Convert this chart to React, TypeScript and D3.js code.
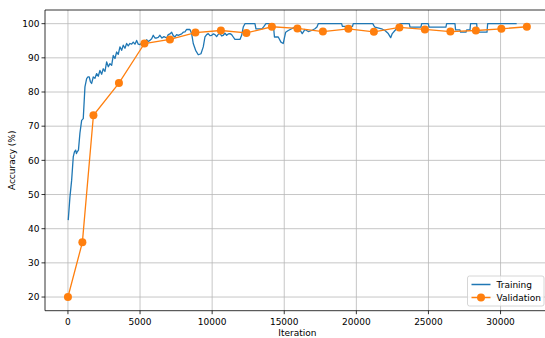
import * as d3 from "d3";
import React from "react";

// training accuracy (iteration, %)
const trainingPoints: [number, number][] = [
  [20, 42.5], [139, 49.3], [257, 54.2], [368, 61.0], [450, 62.5], [534, 63.0],
  [590, 62.0], [645, 62.5], [728, 63.0], [832, 68.0], [950, 71.7], [1061, 72.2],
  [1179, 81.5], [1297, 83.9], [1387, 84.4], [1477, 84.4], [1560, 83.0], [1644, 82.5],
  [1755, 84.4], [1872, 84.0], [1990, 85.4], [2101, 84.6], [2219, 86.3], [2337, 85.2],
  [2448, 86.8], [2566, 86.0], [2684, 88.8], [2801, 87.4], [2913, 88.3], [3031, 87.8],
  [3142, 90.7], [3259, 89.8], [3377, 91.7], [3488, 91.0], [3606, 93.2], [3724, 92.2],
  [3835, 93.7], [3953, 92.8], [4071, 94.2], [4182, 93.5], [4300, 94.2], [4418, 94.0],
  [4528, 94.6], [4646, 94.0], [4764, 95.1], [4875, 94.0], [4993, 93.9], [5111, 94.3],
  [5222, 94.8], [5340, 94.5], [5458, 95.3], [5569, 94.8], [5687, 95.1], [5805, 95.6],
  [5916, 96.6], [6033, 95.8], [6151, 95.8], [6262, 96.0], [6380, 96.6], [6519, 95.8],
  [6658, 96.2], [6845, 95.8], [6956, 96.8], [7074, 97.0], [7192, 97.5], [7302, 96.5],
  [7420, 96.1], [7538, 96.8], [7649, 96.6], [7767, 96.8], [7885, 97.0], [7996, 97.5],
  [8114, 97.6], [8232, 98.3], [8343, 98.3], [8461, 98.3], [8578, 97.1], [8690, 94.2],
  [8855, 92.2], [9036, 90.9], [9224, 91.2], [9383, 93.2], [9501, 96.1], [9619, 96.8],
  [9730, 97.1], [9848, 96.5], [9966, 96.6], [10077, 97.0], [10194, 96.8], [10312, 96.2],
  [10423, 96.9], [10541, 97.1], [10659, 96.4], [10770, 96.6], [10888, 97.2], [11006, 96.6],
  [11117, 97.0], [11235, 97.1], [11352, 96.8], [11464, 96.1], [11581, 95.4], [11699, 95.4],
  [11928, 95.4], [12046, 96.6], [12157, 99.0], [12275, 100], [12968, 100], [13038, 98.5],
  [13454, 98.5], [13593, 99.2], [13731, 100], [14238, 100], [14321, 96.1], [14584, 96.1],
  [14771, 94.6], [14931, 94.2], [15098, 97.5], [15278, 98.0], [15514, 98.5], [15742, 99.0],
  [15971, 98.7], [16089, 98.2], [16249, 97.1], [16436, 98.3], [16665, 97.7], [16900, 98.0],
  [17130, 98.5], [17268, 99.0], [17358, 100], [18980, 100], [19030, 99.2], [19735, 99.2],
  [19785, 100], [21150, 100], [21200, 99.5], [21290, 99.0], [21755, 98.5], [21984, 98.0],
  [22213, 97.1], [22380, 95.9], [22491, 97.1], [22677, 98.0], [22906, 99.0], [23024, 100],
  [23669, 100], [23720, 99.0], [24480, 99.0], [24529, 100], [24987, 100], [25040, 99.0],
  [26210, 99.0], [26263, 100], [26838, 100], [26880, 98.2], [27185, 98.2], [27230, 97.5],
  [27601, 97.5], [27650, 98.2], [27879, 98.2], [27920, 100], [28344, 100], [28390, 97.5],
  [29060, 97.5], [29106, 100], [31117, 100],
];

// validation accuracy
const validationIter = [
  0, 1000, 1768, 3536, 5304, 7072, 8840, 10608, 12376, 14144,
  15912, 17680, 19448, 21216, 22984, 24752, 26520, 28288, 30056, 31824,
];
const validationAcc = [
  20, 36.0, 73.2, 82.6, 94.2, 95.4, 97.4, 98.0, 97.3, 99.1,
  98.6, 97.7, 98.5, 97.6, 98.9, 98.3, 97.7, 98.0, 98.5, 99.1,
];

const xTicks = [0, 5000, 10000, 15000, 20000, 25000, 30000];
const yTicks = [20, 30, 40, 50, 60, 70, 80, 90, 100];
const seriesNames = ["Training", "Validation"];

const W = 545;
const H = 338;
const left = 45;
const top = 10;
const bottom = 310.7;
const right = 549.8;

const blue = "#1f77b4";
const orange = "#ff7f0e";
const font = "DejaVu Sans, sans-serif";
const fs = 9;

export default function App() {
  const xMax = d3.max(validationIter) as number;
  const pad = xMax * 0.05;
  const x = d3.scaleLinear().domain([-pad, xMax + pad]).range([left, right]);
  const y = d3.scaleLinear().domain([16, 104]).range([bottom, top]);

  const line = d3
    .line<[number, number]>()
    .x((d) => x(d[0]))
    .y((d) => y(d[1]));

  const valPoints: [number, number][] = validationIter.map((it, i) => [it, validationAcc[i]]);

  return (
    <svg
      width={W}
      height={H}
      style={{ position: "absolute", left: 0, top: 0, background: "#fff" }}
      fontFamily={font}
    >
      {/* grid */}
      <g stroke="#b8b8b8" strokeWidth={0.8}>
        {xTicks.map((t) => (
          <line key={"gx" + t} x1={x(t)} x2={x(t)} y1={top} y2={bottom} />
        ))}
        {yTicks.map((t) => (
          <line key={"gy" + t} x1={left} x2={right} y1={y(t)} y2={y(t)} />
        ))}
      </g>

      {/* series */}
      <path d={line(trainingPoints) || ""} fill="none" stroke={blue} strokeWidth={1.3} strokeLinejoin="round" />
      <path d={line(valPoints) || ""} fill="none" stroke={orange} strokeWidth={1.3} />
      {valPoints.map((d, i) => (
        <circle key={i} cx={x(d[0])} cy={y(d[1])} r={4} fill={orange} />
      ))}

      {/* spines */}
      <g stroke="#000" strokeWidth={0.8} fill="none">
        <line x1={left} x2={right} y1={top} y2={top} />
        <line x1={left} x2={right} y1={bottom} y2={bottom} />
        <line x1={left} x2={left} y1={top} y2={bottom} />
      </g>

      {/* x axis */}
      {xTicks.map((t) => (
        <g key={"xt" + t}>
          <line x1={x(t)} x2={x(t)} y1={bottom} y2={bottom + 3.5} stroke="#000" strokeWidth={0.8} />
          <text x={x(t)} y={bottom + 14} fontSize={fs} textAnchor="middle" fill="#000">
            {t}
          </text>
        </g>
      ))}
      <text x={(left + right) / 2} y={336} fontSize={fs} textAnchor="middle" fill="#000">
        Iteration
      </text>

      {/* y axis */}
      {yTicks.map((t) => (
        <g key={"yt" + t}>
          <line x1={left - 3.5} x2={left} y1={y(t)} y2={y(t)} stroke="#000" strokeWidth={0.8} />
          <text x={left - 5.5} y={y(t) + 3.3} fontSize={fs} textAnchor="end" fill="#000">
            {t}
          </text>
        </g>
      ))}
      <text
        transform={`translate(15, ${(top + bottom) / 2}) rotate(-90)`}
        fontSize={fs}
        textAnchor="middle"
        fill="#000"
      >
        Accuracy (%)
      </text>

      {/* legend */}
      <g transform="translate(467.5, 276)">
        <rect x={0} y={0} width={76.5} height={30} rx={2} fill="#fff" fillOpacity={0.8} stroke="#ccc" strokeWidth={0.8} />
        <line x1={4} x2={23} y1={8.5} y2={8.5} stroke={blue} strokeWidth={1.5} />
        <text x={29} y={11.5} fontSize={fs} fill="#000">{seriesNames[0]}</text>
        <line x1={4} x2={23} y1={21.5} y2={21.5} stroke={orange} strokeWidth={1.5} />
        <circle cx={13.5} cy={21.5} r={4} fill={orange} />
        <text x={29} y={24.5} fontSize={fs} fill="#000">{seriesNames[1]}</text>
      </g>
    </svg>
  );
}
